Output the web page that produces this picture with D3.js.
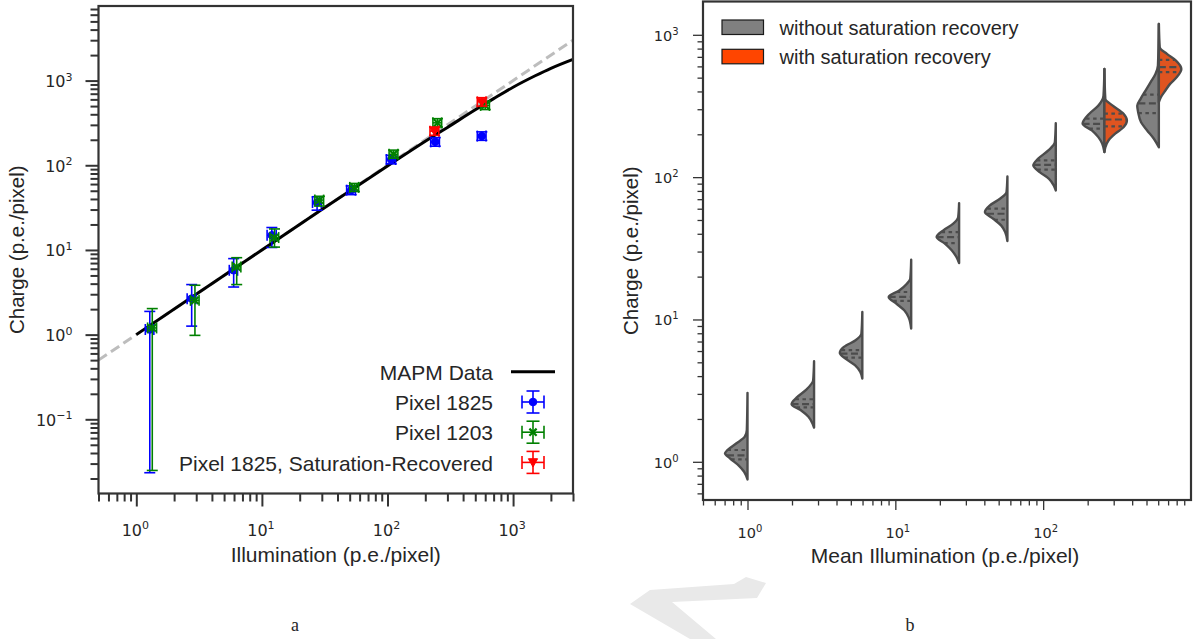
<!DOCTYPE html>
<html><head><meta charset="utf-8">
<script src="https://cdn.jsdelivr.net/npm/d3@7"></script>
<style>
body{margin:0;background:#fff}
svg{display:block}
text{font-family:"Liberation Sans",Arial,Helvetica,sans-serif;fill:#262626}
text.tick{font-family:"DejaVu Sans",sans-serif}
</style>
</head><body>
<svg id="c" width="1193" height="639"></svg>
<script>
// ---------------- DATA ----------------
// Panel a
const leftXDomain = [0.5, 3000];
const leftYDomain = [0.0133, 7600];
const leftXMajor = [1, 10, 100, 1000];
const leftYMajor = [0.1, 1, 10, 100, 1000];

const refIllum = [0.5, 3000];            // y = x reference (dashed grey)
const refCharge = [0.5, 3000];

const mapmIllum  = [1, 10, 30, 100, 200, 300, 500, 700, 1000, 1500, 2000, 3000];
const mapmCharge = [1, 10, 30, 98, 192, 280, 452, 612, 835, 1140, 1398, 1785];

const px1825Illum  = [1.28, 2.76, 5.96, 12.0, 27.5, 51.4, 107, 240, 564];
const px1825IllumLo= [1.18, 2.54, 5.5, 11.0, 25.3, 47.3, 98, 221, 519];
const px1825IllumHi= [1.38, 2.98, 6.4, 13.0, 29.7, 55.5, 116, 259, 609];
const px1825Charge = [1.15, 2.66, 5.75, 14.9, 36.3, 50.8, 117, 189, 221];
const px1825Lo     = [0.0234, 1.26, 3.65, 10.7, 29.5, 45, 104, 168, 197];
const px1825Hi     = [1.88, 3.9, 7.9, 18.4, 42.5, 57, 131, 212, 248];

const px1203Illum  = [1.34, 2.93, 6.3, 12.6, 28.7, 54.5, 112, 250, 600];
const px1203IllumLo= [1.23, 2.7, 5.8, 11.6, 26.4, 50.1, 103, 230, 552];
const px1203IllumHi= [1.45, 3.16, 6.8, 13.6, 31.0, 58.9, 121, 270, 648];
const px1203Charge = [1.2, 2.54, 6.3, 14.0, 38.8, 54.8, 135, 317, 509];
const px1203Lo     = [0.0249, 0.98, 3.9, 10.8, 33, 49, 121, 283, 455];
const px1203Hi     = [2.03, 3.83, 8.1, 17.7, 43, 61, 151, 355, 570];

const satIllum  = [237, 564];
const satIllumLo= [218, 519];
const satIllumHi= [256, 609];
const satCharge = [253, 561];
const satLo     = [226, 500];
const satHi     = [283, 628];

const leftLegend = ["MAPM Data", "Pixel 1825", "Pixel 1203", "Pixel 1825, Saturation-Recovered"];

// Panel b
const rightXDomain = [0.5, 1000];
const rightYDomain = [0.539, 1714];
const rightXMajor = [1, 10, 100];
const rightYMajor = [1, 10, 100, 1000];

const violinIllum = [1.0, 2.82, 5.98, 12.8, 27, 57.3, 121.7, 259.6, 606];
// outline of each "without recovery" half: charge levels (top->bottom) and relative density
const noRecCharge = [
  [3.05, 1.67, 1.50, 1.35, 1.21, 1.146, 1.057, 0.948, 0.851, 0.752],
  [5.09, 3.74, 3.19, 2.86, 2.54, 2.31, 2.07, 1.86, 1.74],
  [11.29, 7.96, 7.14, 6.41, 5.82, 5.31, 4.77, 4.28, 3.85],
  [26.3, 19.4, 17.9, 16.0, 14.4, 12.9, 11.6, 10.4, 8.63],
  [65.7, 52.4, 47.1, 42.3, 37.9, 34.1, 30.6, 27.5, 24.9],
  [101, 78.5, 70.5, 63.3, 56.8, 51.0, 45.8, 41.1, 35.6],
  [239, 176, 154, 135, 121, 108, 97.4, 87.5, 80.7],
  [576, 374, 318, 279, 237, 213, 191, 172, 150],
  [1193, 608, 531, 464, 406, 355, 318, 286, 243, 213, 186, 162]
];
const noRecDensity = [
  [0, 0.03, 0.12, 0.49, 0.89, 1.0, 0.78, 0.41, 0.15, 0],
  [0, 0.04, 0.37, 0.74, 1.0, 0.6, 0.25, 0.07, 0],
  [0, 0.04, 0.3, 0.82, 1.0, 0.75, 0.33, 0.09, 0],
  [0, 0.04, 0.18, 0.53, 1.0, 0.65, 0.31, 0.12, 0],
  [0, 0.04, 0.26, 0.7, 1.0, 0.63, 0.33, 0.12, 0],
  [0, 0.04, 0.33, 0.78, 1.0, 0.63, 0.28, 0.1, 0],
  [0, 0.04, 0.33, 0.78, 1.0, 0.7, 0.3, 0.09, 0],
  [0, 0.04, 0.27, 0.67, 0.97, 0.56, 0.27, 0.1, 0],
  [0, 0.04, 0.15, 0.37, 0.59, 0.81, 0.96, 0.92, 0.79, 0.52, 0.22, 0]
];
const noRecQuartiles = [
  [1.04, 1.11, 1.21], [2.41, 2.54, 2.75], [5.4, 5.76, 6.08], [13.5, 14.4, 15.6],
  [34.4, 37.9, 41.1], [50.2, 55.3, 60], [113, 122, 131], [219, 237, 258], [282, 330, 380]
];
// "with recovery" halves (only the two highest illuminations)
const recIndex = [7, 8];
const recCharge = [
  [576, 355, 318, 279, 250, 224, 202, 181, 162, 150],
  [1193, 817, 734, 659, 576, 503, 452, 406, 364, 336]
];
const recDensity = [
  [0, 0.04, 0.37, 0.85, 1.0, 0.85, 0.48, 0.18, 0.04, 0],
  [0, 0.04, 0.36, 0.76, 1.0, 0.79, 0.5, 0.29, 0.09, 0]
];
const recQuartiles = [[227, 254, 279], [546, 592, 667]];
const rightLegend = ["without saturation recovery", "with saturation recovery"];
const rightLegendColors = ["#808080", "#ff4500"];

// ---------------- DRAW ----------------
const svg = d3.select("#c");
const DARK = "#333333";

// faint watermark stroke (decorative)
svg.append("path")
  .attr("d", "M630,604 L650,590 L734,584 L746,577 L766,583 L757,598 L672,602 L716,639 L690,639 Z")
  .attr("fill", "#e9e9e9");

function sup(sel, exp, supSize, raise) {
  sel.append("tspan").text("10");
  sel.append("tspan").attr("dy", -raise).attr("font-size", supSize).text(exp);
}
function expOf(v) { const e = Math.round(Math.log10(v)); return e < 0 ? "\u2212" + (-e) : String(e); }

// ===== Panel a =====
const L = {x0: 98.5, x1: 573, y0: 6, y1: 493.5};
const xL = d3.scaleLog().domain(leftXDomain).range([L.x0, L.x1]);
const yL = d3.scaleLog().domain(leftYDomain).range([L.y1, L.y0]);
const gA = svg.append("g");

function ticksAxis(g, axis, sw) {
  g.call(axis);
  g.select(".domain").remove();
  g.selectAll("line").attr("stroke", DARK).attr("stroke-width", sw);
  g.selectAll("text").remove();
}
const isMajor = (arr) => v => arr.some(m => Math.abs(m - v) / m < 1e-6);
const lxMinor = xL.ticks().filter(v => !isMajor(leftXMajor)(v));
const lyMinor = yL.ticks().filter(v => !isMajor(leftYMajor)(v) && v >= leftYDomain[0] && v <= leftYDomain[1]);

ticksAxis(gA.append("g").attr("transform", `translate(0,${L.y1})`),
  d3.axisBottom(xL).tickValues(lxMinor).tickSize(8).tickFormat(""), 2);
ticksAxis(gA.append("g").attr("transform", `translate(0,${L.y1})`),
  d3.axisBottom(xL).tickValues(leftXMajor).tickSize(13).tickFormat(""), 2);
ticksAxis(gA.append("g").attr("transform", `translate(${L.x0},0)`),
  d3.axisLeft(yL).tickValues(lyMinor).tickSize(8).tickFormat(""), 2);
ticksAxis(gA.append("g").attr("transform", `translate(${L.x0},0)`),
  d3.axisLeft(yL).tickValues(leftYMajor).tickSize(13).tickFormat(""), 2);

leftXMajor.forEach(v => {
  const t = gA.append("text").attr("class", "tick").attr("x", xL(v) - 1).attr("y", 535.5)
    .attr("text-anchor", "middle").attr("font-size", 16);
  sup(t, expOf(v), 11, 6.5);
});
leftYMajor.forEach(v => {
  const t = gA.append("text").attr("class", "tick").attr("x", 72.5).attr("y", yL(v) + 6.5)
    .attr("text-anchor", "end").attr("font-size", 16);
  sup(t, expOf(v), 11, 6.5);
});

// lines
const lineL = d3.line().x(d => xL(d[0])).y(d => yL(d[1]));
gA.append("path").datum(d3.zip(refIllum, refCharge)).attr("d", lineL)
  .attr("fill", "none").attr("stroke", "#bdbdbd").attr("stroke-width", 3).attr("stroke-dasharray", "10,5");
gA.append("path").datum(d3.zip(mapmIllum, mapmCharge)).attr("d", lineL.curve(d3.curveMonotoneX))
  .attr("fill", "none").attr("stroke", "#000").attr("stroke-width", 3);

const CAP = 5.5;
function errSeries(xs, xlo, xhi, ys, ylo, yhi, color, marker) {
  const g = gA.append("g").attr("stroke", color).attr("stroke-width", 1.6).attr("fill", "none");
  xs.forEach((x, i) => {
    const cx = xL(x), cy = yL(ys[i]);
    const a = yL(yhi[i]), b = yL(ylo[i]), l = xL(xlo[i]), r = xL(xhi[i]);
    g.append("line").attr("x1", cx).attr("x2", cx).attr("y1", a).attr("y2", b);
    g.append("line").attr("x1", cx - CAP).attr("x2", cx + CAP).attr("y1", a).attr("y2", a);
    g.append("line").attr("x1", cx - CAP).attr("x2", cx + CAP).attr("y1", b).attr("y2", b);
    g.append("line").attr("x1", l).attr("x2", r).attr("y1", cy).attr("y2", cy);
    g.append("line").attr("x1", l).attr("x2", l).attr("y1", cy - CAP).attr("y2", cy + CAP);
    g.append("line").attr("x1", r).attr("x2", r).attr("y1", cy - CAP).attr("y2", cy + CAP);
    drawMarker(g, cx, cy, color, marker);
  });
}
function drawMarker(g, cx, cy, color, marker) {
  if (marker === "o") g.append("circle").attr("cx", cx).attr("cy", cy).attr("r", 3.8).attr("fill", color).attr("stroke", color).attr("stroke-width", 1);
  else if (marker === "x") {
    const s = 3.6;
    g.append("path").attr("d", `M${cx-s},${cy-s}L${cx+s},${cy+s}M${cx-s},${cy+s}L${cx+s},${cy-s}`).attr("stroke", color).attr("stroke-width", 2.2);
  } else {
    const s = 4.6;
    g.append("path").attr("d", `M${cx-s},${cy-s*0.8}L${cx+s},${cy-s*0.8}L${cx},${cy+s}Z`).attr("fill", color).attr("stroke", color).attr("stroke-width", 1);
  }
}
errSeries(px1825Illum, px1825IllumLo, px1825IllumHi, px1825Charge, px1825Lo, px1825Hi, "#0000ff", "o");
errSeries(px1203Illum, px1203IllumLo, px1203IllumHi, px1203Charge, px1203Lo, px1203Hi, "#008000", "x");
errSeries(satIllum, satIllumLo, satIllumHi, satCharge, satLo, satHi, "#ff0000", "v");

// frame
gA.append("rect").attr("x", L.x0).attr("y", L.y0).attr("width", L.x1 - L.x0).attr("height", L.y1 - L.y0)
  .attr("fill", "none").attr("stroke", DARK).attr("stroke-width", 2.2);

// legend a
const legColors = ["#000", "#0000ff", "#008000", "#ff0000"];
const legMarkers = [null, "o", "x", "v"];
leftLegend.forEach((name, i) => {
  const by = 380 + i * 30.2, cy = by - 8.2;
  gA.append("text").attr("x", 493).attr("y", by).attr("text-anchor", "end").attr("font-size", 21).text(name);
  const g = gA.append("g").attr("stroke", legColors[i]).attr("fill", "none").attr("stroke-width", 1.6);
  const cx = 533;
  if (i === 0) {
    g.append("line").attr("x1", 511).attr("x2", 555).attr("y1", cy).attr("y2", cy).attr("stroke-width", 3);
  } else {
    g.append("line").attr("x1", cx).attr("x2", cx).attr("y1", cy - 11).attr("y2", cy + 11);
    g.append("line").attr("x1", cx - 6.5).attr("x2", cx + 6.5).attr("y1", cy - 11).attr("y2", cy - 11);
    g.append("line").attr("x1", cx - 6.5).attr("x2", cx + 6.5).attr("y1", cy + 11).attr("y2", cy + 11);
    g.append("line").attr("x1", cx - 11).attr("x2", cx + 11).attr("y1", cy).attr("y2", cy);
    g.append("line").attr("x1", cx - 11).attr("x2", cx - 11).attr("y1", cy - 6.5).attr("y2", cy + 6.5);
    g.append("line").attr("x1", cx + 11).attr("x2", cx + 11).attr("y1", cy - 6.5).attr("y2", cy + 6.5);
    drawMarker(g, cx, cy, legColors[i], legMarkers[i]);
  }
});

// axis titles a
gA.append("text").attr("transform", `translate(23.5,${(L.y0 + L.y1) / 2}) rotate(-90)`)
  .attr("text-anchor", "middle").attr("font-size", 20.5).text("Charge (p.e./pixel)");
gA.append("text").attr("x", (L.x0 + L.x1) / 2).attr("y", 561.5)
  .attr("text-anchor", "middle").attr("font-size", 21).text("Illumination (p.e./pixel)");

// ===== Panel b =====
const R = {x0: 703, x1: 1191, y0: 1.5, y1: 500};
const xR = d3.scaleLog().domain(rightXDomain).range([R.x0, R.x1]);
const yR = d3.scaleLog().domain(rightYDomain).range([R.y1, R.y0]);
const gB = svg.append("g");

const rxMinor = xR.ticks().filter(v => !isMajor(rightXMajor)(v) && v < rightXDomain[1]);
const ryMinor = yR.ticks().filter(v => !isMajor(rightYMajor)(v));
ticksAxis(gB.append("g").attr("transform", `translate(0,${R.y1})`),
  d3.axisBottom(xR).tickValues(rxMinor).tickSize(5.5).tickFormat(""), 1.3);
ticksAxis(gB.append("g").attr("transform", `translate(0,${R.y1})`),
  d3.axisBottom(xR).tickValues(rightXMajor).tickSize(10).tickFormat(""), 1.3);
ticksAxis(gB.append("g").attr("transform", `translate(${R.x0},0)`),
  d3.axisLeft(yR).tickValues(ryMinor).tickSize(5.5).tickFormat(""), 1.3);
ticksAxis(gB.append("g").attr("transform", `translate(${R.x0},0)`),
  d3.axisLeft(yR).tickValues(rightYMajor).tickSize(10).tickFormat(""), 1.3);

rightXMajor.forEach(v => {
  const t = gB.append("text").attr("class", "tick").attr("x", xR(v) + 2.5).attr("y", 538)
    .attr("text-anchor", "middle").attr("font-size", 14.5);
  sup(t, expOf(v), 10, 6);
});
rightYMajor.forEach(v => {
  const t = gB.append("text").attr("class", "tick").attr("x", 678.5).attr("y", yR(v) + 5.8)
    .attr("text-anchor", "end").attr("font-size", 14.5);
  sup(t, expOf(v), 10, 6);
});

// violins
const wScale = d3.scaleLinear().domain([0, 1]).range([0, 22.5]);
const VLINE = "#4c4c4c";
function densAt(ch, de, q) {
  for (let k = 0; k < ch.length - 1; k++) {
    const a = ch[k], b = ch[k + 1];
    if (q <= a && q >= b) {
      const t = (Math.log(a) - Math.log(q)) / (Math.log(a) - Math.log(b));
      return de[k] + t * (de[k + 1] - de[k]);
    }
  }
  return 0;
}
function halfViolin(cx, ch, de, quart, side, fill) {
  const pts = d3.zip(ch, de);
  const area = d3.area().y(d => yR(d[0])).x0(cx).x1(d => cx + side * wScale(d[1])).curve(d3.curveMonotoneY);
  gB.append("path").datum(pts).attr("d", area).attr("fill", fill)
    .attr("stroke", VLINE).attr("stroke-width", 2.4).attr("stroke-linejoin", "round");
  quart.forEach((q, qi) => {
    const w = wScale(densAt(ch, de, q));
    const y = yR(q);
    const xa = side < 0 ? cx - w : cx, xb = side < 0 ? cx : cx + w;
    gB.append("line").attr("x1", xa).attr("x2", xb).attr("y1", y).attr("y2", y)
      .attr("stroke", VLINE).attr("stroke-width", 2.2)
      .attr("stroke-dasharray", qi === 1 ? "7,3.5" : "3.5,3.5");
  });
}
violinIllum.forEach((x, i) => {
  halfViolin(xR(x), noRecCharge[i], noRecDensity[i], noRecQuartiles[i], -1, "#808080");
});
recIndex.forEach((vi, j) => {
  halfViolin(xR(violinIllum[vi]), recCharge[j], recDensity[j], recQuartiles[j], 1, "#df5420");
});

// frame b
gB.append("rect").attr("x", R.x0).attr("y", R.y0).attr("width", R.x1 - R.x0).attr("height", R.y1 - R.y0)
  .attr("fill", "none").attr("stroke", DARK).attr("stroke-width", 2.2);

// legend b
rightLegend.forEach((name, i) => {
  const top = 20 + i * 29.3;
  gB.append("rect").attr("x", 722).attr("y", top).attr("width", 41.5).attr("height", 14.5)
    .attr("fill", rightLegendColors[i]).attr("stroke", "#1a1a1a").attr("stroke-width", 1.2);
  gB.append("text").attr("x", 779.5).attr("y", top + 14.6).attr("font-size", 20).text(name);
});

gB.append("text").attr("transform", `translate(637.5,${(R.y0 + R.y1) / 2}) rotate(-90)`)
  .attr("text-anchor", "middle").attr("font-size", 20.5).text("Charge (p.e./pixel)");
gB.append("text").attr("x", 945).attr("y", 563)
  .attr("text-anchor", "middle").attr("font-size", 21).text("Mean Illumination (p.e./pixel)");

// captions
svg.append("text").attr("x", 295).attr("y", 631).attr("text-anchor", "middle")
  .style("font-family", "'Liberation Serif','Times New Roman',serif").attr("font-size", 18).text("a");
svg.append("text").attr("x", 910).attr("y", 631).attr("text-anchor", "middle")
  .style("font-family", "'Liberation Serif','Times New Roman',serif").attr("font-size", 18).text("b");
</script>
</body></html>
